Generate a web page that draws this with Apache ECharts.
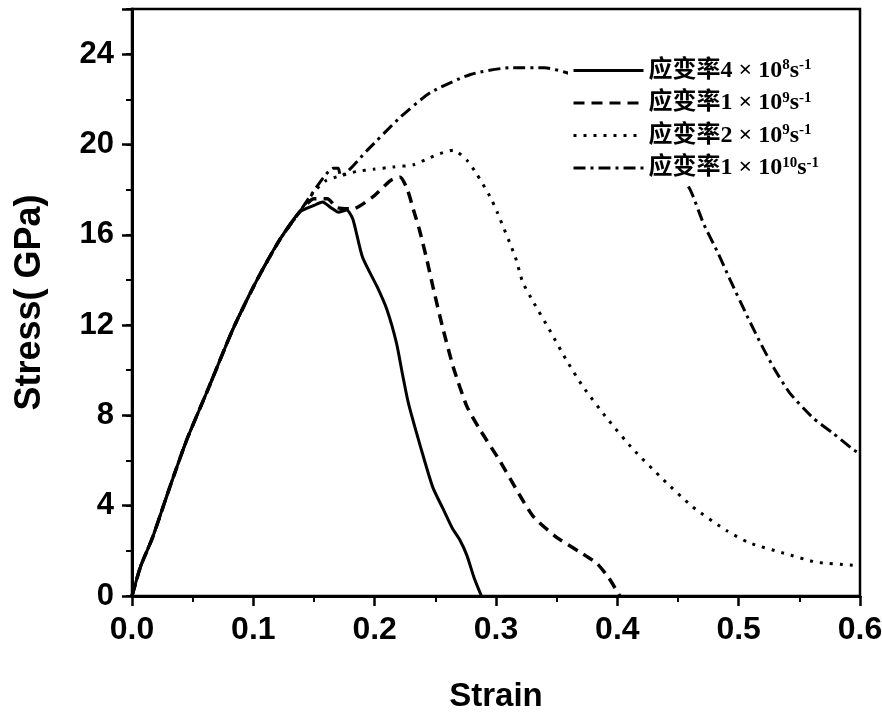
<!DOCTYPE html>
<html>
<head>
<meta charset="utf-8">
<script src="https://cdn.jsdelivr.net/npm/echarts@6/dist/echarts.min.js"></script>
<style>
  html, body { margin: 0; padding: 0; background: #fff; }
  #chart { width: 882px; height: 715px; }
</style>
</head>
<body>
<div id="chart"></div>
<script>
// strain rate 4e8 (solid)
const strain1 = [0, 0.007, 0.017, 0.031, 0.045, 0.063, 0.083, 0.103, 0.122, 0.138, 0.150, 0.157, 0.164, 0.170, 0.177, 0.182, 0.190, 0.202, 0.210, 0.218, 0.223, 0.228, 0.240, 0.248, 0.256, 0.264, 0.270, 0.276, 0.282, 0.288]
const stress1 = [0, 1.3, 2.6, 4.8, 6.9, 9.2, 11.8, 14.0, 15.8, 17.0, 17.3, 17.45, 17.2, 17.0, 17.1, 16.7, 15.0, 13.7, 12.7, 11.2, 9.8, 8.5, 6.2, 4.8, 3.9, 3.0, 2.5, 1.8, 0.8, 0]

// strain rate 1e9 (dashed)
const strain2 = [0, 0.007, 0.017, 0.031, 0.045, 0.063, 0.083, 0.103, 0.122, 0.138, 0.150, 0.161, 0.169, 0.182, 0.199, 0.213, 0.221, 0.227, 0.232, 0.237, 0.243, 0.248, 0.256, 0.265, 0.276, 0.287, 0.303, 0.317, 0.331, 0.350, 0.369, 0.383, 0.393, 0.402]
const stress2 = [0, 1.3, 2.6, 4.8, 6.9, 9.2, 11.8, 14.0, 15.8, 17.0, 17.6, 17.6, 17.2, 17.15, 17.7, 18.4, 18.55, 18.0, 17.1, 16.2, 14.9, 13.7, 11.9, 10.1, 8.4, 7.35, 6.0, 4.7, 3.5, 2.6, 1.95, 1.45, 0.8, 0]

// strain rate 2e9 (dotted)
const strain3 = [0, 0.007, 0.017, 0.031, 0.045, 0.063, 0.083, 0.103, 0.122, 0.138, 0.150, 0.160, 0.171, 0.185, 0.199, 0.215, 0.232, 0.245, 0.254, 0.265, 0.276, 0.284, 0.295, 0.301, 0.316, 0.322, 0.331, 0.345, 0.358, 0.372, 0.391, 0.413, 0.438, 0.462, 0.490, 0.509, 0.537, 0.564, 0.592, 0.600]
const stress3 = [0, 1.3, 2.6, 4.8, 6.9, 9.2, 11.8, 14.0, 15.8, 17.0, 17.9, 18.4, 18.6, 18.8, 18.9, 19.0, 19.1, 19.4, 19.6, 19.75, 19.3, 18.7, 17.7, 17.0, 15.0, 13.9, 13.0, 11.7, 10.45, 9.25, 7.9, 6.5, 5.15, 3.95, 2.9, 2.35, 1.9, 1.5, 1.37, 1.35]

// strain rate 1e10 (dash-dot), part of it runs under the legend box
const strain4 = [0, 0.007, 0.017, 0.031, 0.045, 0.063, 0.083, 0.103, 0.122, 0.138, 0.148, 0.166, 0.170, 0.172, 0.194, 0.221, 0.246, 0.279, 0.312, 0.340, 0.357, 0.380, 0.400, 0.420, 0.440, 0.460, 0.471, 0.482, 0.493, 0.507, 0.518, 0.529, 0.542, 0.561, 0.578, 0.594, 0.600]
const stress4 = [0, 1.3, 2.6, 4.8, 6.9, 9.2, 11.8, 14.0, 15.8, 17.0, 17.8, 18.95, 18.95, 18.6, 19.75, 21.2, 22.3, 23.1, 23.4, 23.4, 23.2, 22.8, 22.0, 21.0, 19.7, 18.0, 16.5, 15.3, 14.0, 12.4, 11.2, 10.1, 9.0, 7.9, 7.2, 6.5, 6.3]

const seriesNames = ['r1', 'r2', 'r3', 'r4']
const legendLabels = {
  r1: '{t|应变率4 × 10}{s|8}{t|s}{s|-1}',
  r2: '{t|应变率1 × 10}{s|9}{t|s}{s|-1}',
  r3: '{t|应变率2 × 10}{s|9}{t|s}{s|-1}',
  r4: '{t|应变率1 × 10}{s|10}{t|s}{s|-1}'
}

const pairs = (xs, ys) => xs.map((x, i) => [x, ys[i]])

const chart = echarts.init(document.getElementById('chart'))

const labelFont = { fontFamily: 'Liberation Sans, Arial, sans-serif', fontWeight: 'bold', color: '#000' }

const mkSeries = (name, xs, ys, type, width) => ({
  name: name,
  type: 'line',
  data: pairs(xs, ys),
  showSymbol: false,
  symbol: 'none',
  smooth: 0.2,
  lineStyle: { color: '#000', width: width, type: type, cap: 'butt' },
  itemStyle: { color: '#000' },
  z: 2
})

chart.setOption({
  animation: false,
  backgroundColor: '#fff',
  grid: {
    left: 132, right: 22, top: 9, bottom: 119,
    show: true, borderColor: '#000', borderWidth: 2.5,
    containLabel: false,
    outerBoundsMode: 'none'
  },
  legend: {
    orient: 'vertical',
    left: 568,
    top: 54,
    z: 10,
    backgroundColor: '#fff',
    padding: [4, 6, 6, 4],
    itemWidth: 70,
    itemHeight: 14,
    itemGap: 8,
    data: seriesNames,
    itemStyle: { color: 'rgba(0,0,0,0)', borderWidth: 0 },
    lineStyle: { width: 3 },
    formatter: name => legendLabels[name],
    textStyle: {
      rich: {
        t: { fontFamily: 'Liberation Serif, Noto Sans CJK SC, serif', fontWeight: 'bold', fontSize: 24, color: '#000', lineHeight: 25 },
        s: { fontFamily: 'Liberation Serif, serif', fontWeight: 'bold', fontSize: 15, color: '#000', verticalAlign: 'top', lineHeight: 14 }
      }
    }
  },
  xAxis: {
    type: 'value',
    min: 0, max: 0.6, interval: 0.1,
    name: 'Strain',
    nameLocation: 'middle',
    nameGap: 84,
    nameTextStyle: { ...labelFont, fontSize: 33 },
    axisLine: { lineStyle: { color: '#000', width: 3 } },
    axisTick: { inside: false, length: 10, lineStyle: { color: '#000', width: 2.5 } },
    minorTick: { show: true, splitNumber: 2, length: 6, lineStyle: { color: '#000', width: 2 } },
    axisLabel: { ...labelFont, fontSize: 32, margin: 18, formatter: v => v.toFixed(1) },
    splitLine: { show: false }
  },
  yAxis: [
    {
      type: 'value',
      min: 0, max: 26, interval: 4,
      name: 'Stress( GPa)',
      nameLocation: 'middle',
      nameGap: 84,
      nameTextStyle: { ...labelFont, fontSize: 36 },
      axisLine: { lineStyle: { color: '#000', width: 3 } },
      axisTick: { inside: false, length: 10, lineStyle: { color: '#000', width: 2.5 } },
      axisLabel: { ...labelFont, fontSize: 31, margin: 18, formatter: v => (v % 4 === 0 ? String(v) : '') },
      splitLine: { show: false }
    },
    {
      // minor ticks every 2 GPa
      type: 'value',
      position: 'left',
      offset: 0,
      min: 0, max: 26, interval: 2,
      axisLine: { show: false },
      axisTick: { inside: false, length: 6, lineStyle: { color: '#000', width: 2 } },
      axisLabel: { show: false },
      splitLine: { show: false }
    }
  ],
  series: [
    mkSeries('r1', strain1, stress1, 'solid', 3),
    mkSeries('r2', strain2, stress2, [11, 7], 3.5),
    mkSeries('r3', strain3, stress3, [3, 7], 3),
    mkSeries('r4', strain4, stress4, [12, 5, 3, 5], 3)
  ]
})
</script>
</body>
</html>
